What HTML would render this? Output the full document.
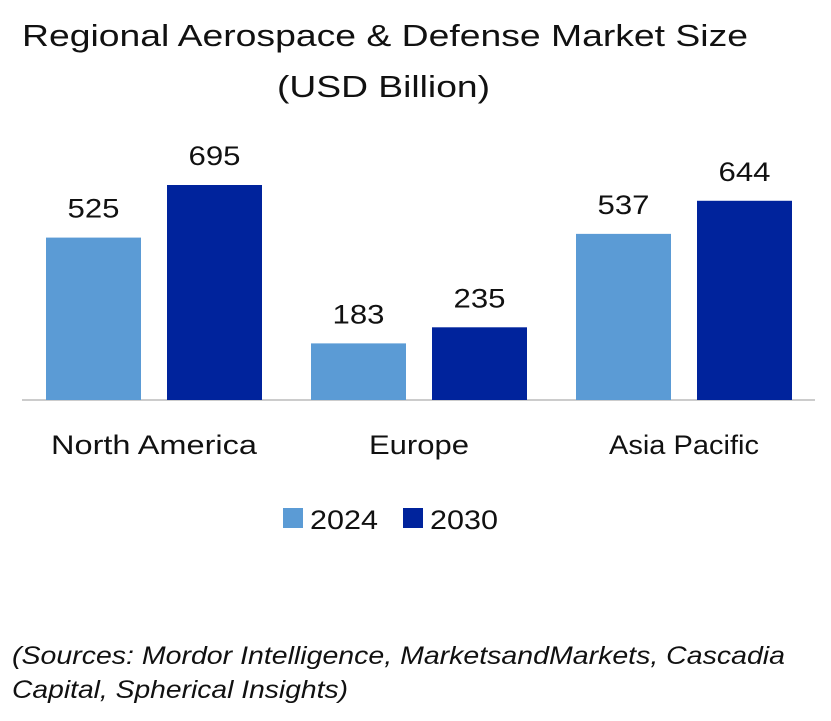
<!DOCTYPE html>
<html><head><meta charset="utf-8"><style>
body{margin:0;background:#fff;width:831px;height:716px;overflow:hidden;font-family:"Liberation Sans",sans-serif;}
</style></head><body>
<svg width="831" height="716" id="c">
<text x="22" y="46" textLength="726" lengthAdjust="spacingAndGlyphs" font-size="31" fill="#111">Regional Aerospace &amp; Defense Market Size</text>
<text x="277" y="97" textLength="213" lengthAdjust="spacingAndGlyphs" font-size="31" fill="#111">(USD Billion)</text>
<line x1="22" x2="815" y1="400" y2="400" stroke="#bbb" stroke-width="1.5"/>
<g id="bars"></g>
<rect x="283" y="508" width="20" height="20" fill="#5B9BD5"/>
<text x="310" y="529" textLength="68" lengthAdjust="spacingAndGlyphs" font-size="27" fill="#111">2024</text>
<rect x="403" y="508" width="20" height="20" fill="#00239C"/>
<text x="430" y="529" textLength="68" lengthAdjust="spacingAndGlyphs" font-size="27" fill="#111">2030</text>
<text x="12" y="664" textLength="773" lengthAdjust="spacingAndGlyphs" font-size="25" font-style="italic" fill="#111">(Sources: Mordor Intelligence, MarketsandMarkets, Cascadia</text>
<text x="12" y="698" textLength="336" lengthAdjust="spacingAndGlyphs" font-size="25" font-style="italic" fill="#111">Capital, Spherical Insights)</text>
</svg>
<script>
const categories=["North America","Europe","Asia Pacific"];
const values2024=[525,183,537];
const values2030=[695,235,644];
const catWidths=[206,100,150];
const baseY=400, scale=215/695, groupW=265, startX=22, barW=95;
const yPos=v=>baseY-v*scale;
const g=document.getElementById('bars');
const ns="http://www.w3.org/2000/svg";
categories.forEach((cat,i)=>{
  const gx=startX+i*groupW+24;
  [[values2024,"#5B9BD5",0,"2024"],[values2030,"#00239C",121,"2030"]].forEach(([arr,col,off,yr])=>{
    const v=arr[i];
    const r=document.createElementNS(ns,'rect');
    r.setAttribute('x',gx+off);r.setAttribute('y',yPos(v));r.setAttribute('width',barW);r.setAttribute('height',v*scale);r.setAttribute('fill',col);
    
    
    g.appendChild(r);
    const t=document.createElementNS(ns,'text');
    t.setAttribute('x',gx+off+barW/2-26);t.setAttribute('y',yPos(v)-20);t.setAttribute('textLength','52');t.setAttribute('lengthAdjust','spacingAndGlyphs');t.setAttribute('font-size','27');t.setAttribute('fill','#111');
    t.textContent=v;
    
    
    g.appendChild(t);
  });
  const l=document.createElementNS(ns,'text');
  const w=catWidths[i]||cat.length*15;
  l.setAttribute('x',gx+108-w/2);l.setAttribute('y',454);l.setAttribute('textLength',w);l.setAttribute('lengthAdjust','spacingAndGlyphs');l.setAttribute('font-size','27');l.setAttribute('fill','#111');
  l.textContent=cat;
  
  
  g.appendChild(l);
});
</script>
</body></html>
